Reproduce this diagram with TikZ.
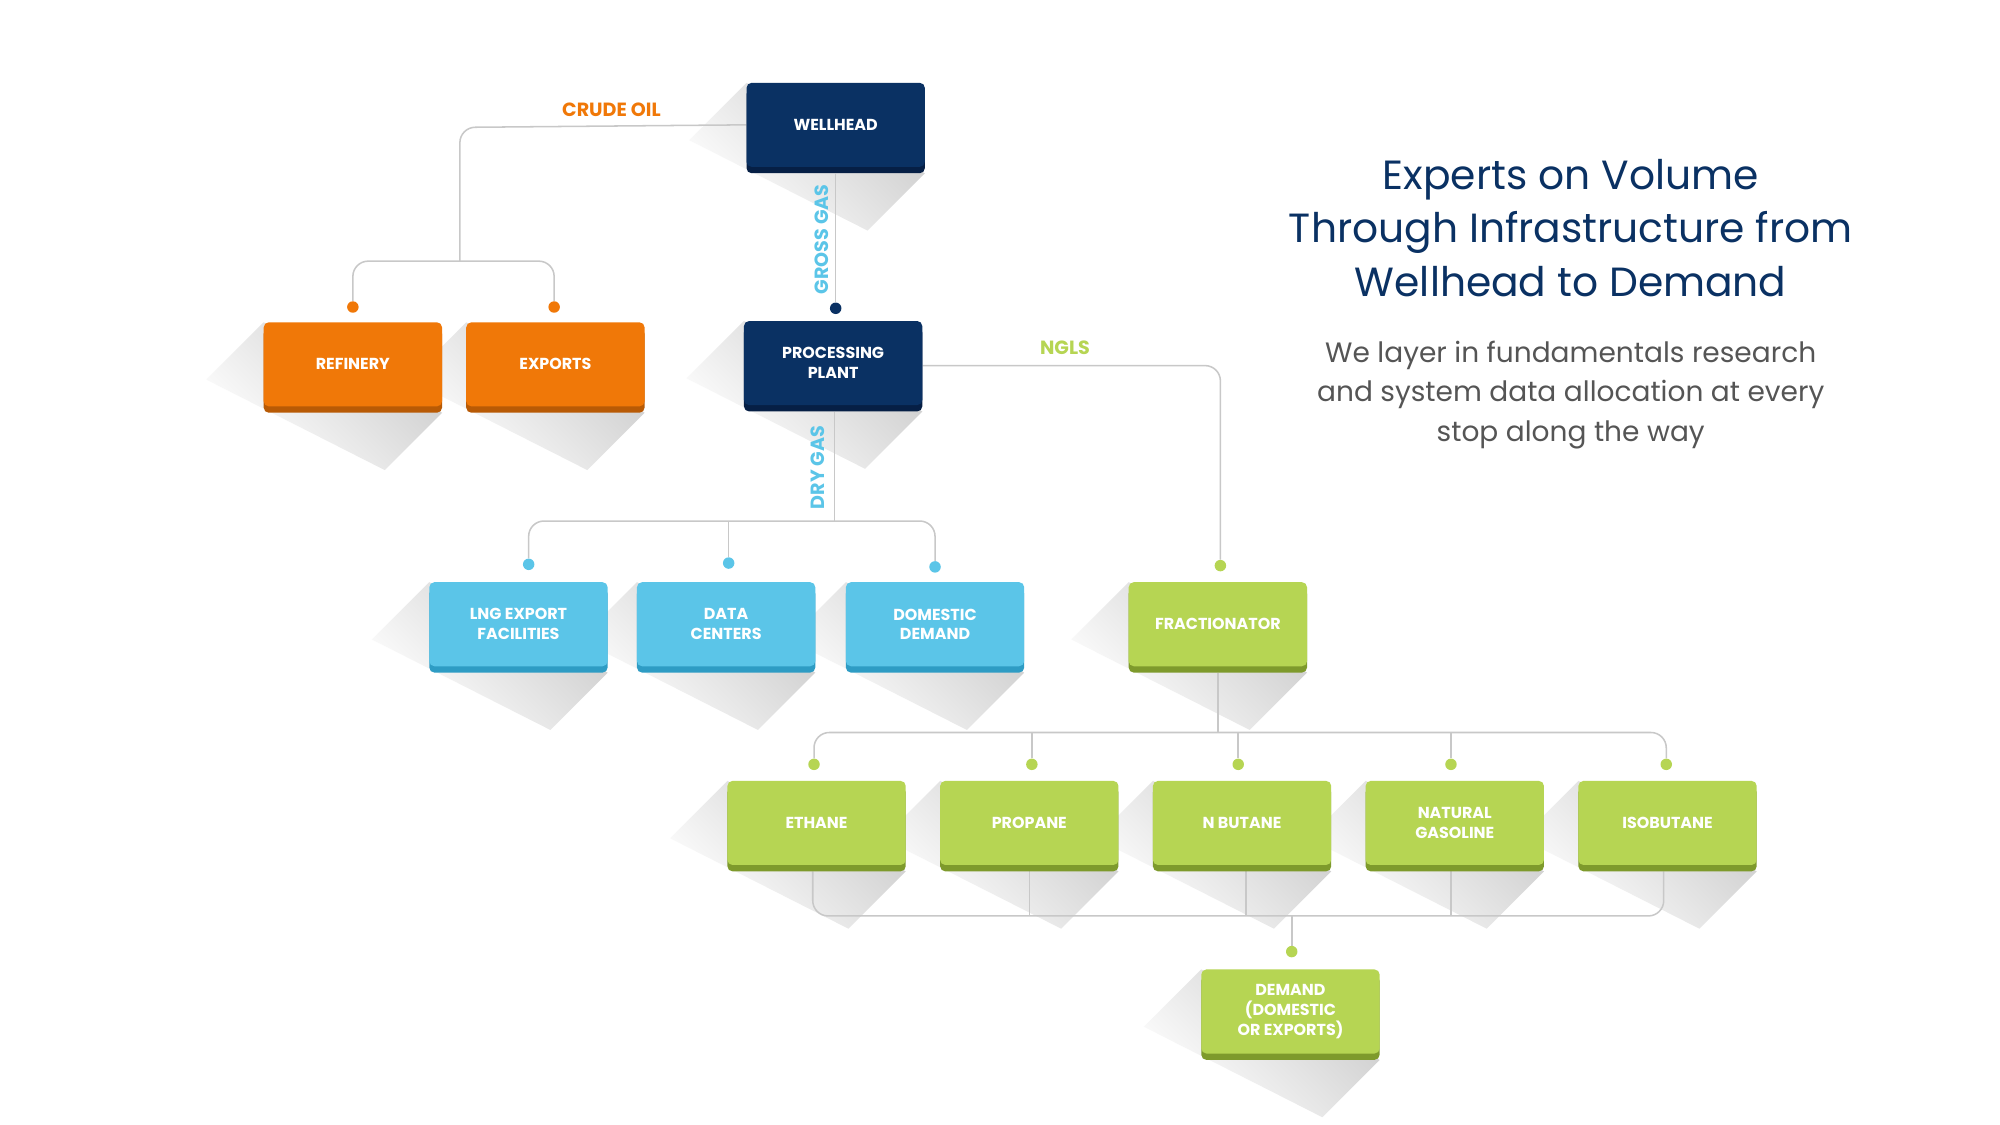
\documentclass[tikz,border=0pt]{standalone}
\usepackage{fontspec}
\setmainfont{Poppins}
\usetikzlibrary{calc}
\pgfdeclarelayer{shad}\pgfdeclarelayer{lines}
\pgfsetlayers{shad,lines,main}
\definecolor{navy}{HTML}{0A3163}\definecolor{navydark}{HTML}{061F45}
\definecolor{org}{HTML}{F07808}\definecolor{orgdark}{HTML}{B85A05}
\definecolor{sky}{HTML}{5BC5E8}\definecolor{skydark}{HTML}{2E9CC4}
\definecolor{lime}{HTML}{B6D553}\definecolor{limedark}{HTML}{7E9A2C}
\definecolor{ln}{HTML}{C8C8C8}\definecolor{sub}{HTML}{555555}
\tikzset{
 box/.style={minimum width=140pt,minimum height=66pt,rounded corners=4pt,text=white,
   font=\bfseries\fontsize{12.5}{15.5}\selectfont,align=center,inner sep=0pt},
 shadow/.style={top color=black!20,bottom color=white,shading angle=-45},
 conn/.style={ln,line width=1.2pt,rounded corners=12pt},
 dot/.style={circle,inner sep=0pt,minimum size=9pt,fill=#1},
 lab/.style={font=\bfseries\fontsize{15}{16}\selectfont,text=#1},
}
\newcommand\mybox[5]{%
 \begin{pgfonlayer}{shad}
 \shade[shadow] (#2-70,#3-33) -- (#2-115,#3+12) -- (#2+25,#3+83) -- (#2+70,#3+38) -- cycle;
 \end{pgfonlayer}
 \fill[#4dark,rounded corners=4pt] (#2-70,#3-28) rectangle (#2+70,#3+38);
 \node[box,fill=#4] (#1) at (#2,#3) {#5};}
\begin{document}
\begin{tikzpicture}[x=1pt,y=-1pt]
\useasboundingbox (0,0) rectangle (1570,883);
\begin{pgfonlayer}{shad}\fill[white] (0,0) rectangle (1570,883);\end{pgfonlayer}
% boxes
\mybox{well}{656}{98}{navy}{WELLHEAD}
\mybox{proc}{654}{285}{navy}{PROCESSING\\PLANT}
\mybox{ref}{277}{286}{org}{REFINERY}
\mybox{exp}{436}{286}{org}{EXPORTS}
\mybox{lng}{407}{490}{sky}{LNG EXPORT\\FACILITIES}
\mybox{data}{570}{490}{sky}{DATA\\CENTERS}
\mybox{dom}{734}{490}{sky}{DOMESTIC\\DEMAND}
\mybox{frac}{956}{490}{lime}{FRACTIONATOR}
\mybox{eth}{641}{646}{lime}{ETHANE}
\mybox{pro}{808}{646}{lime}{PROPANE}
\mybox{nbu}{975}{646}{lime}{N BUTANE}
\mybox{nat}{1142}{646}{lime}{NATURAL\\GASOLINE}
\mybox{iso}{1309}{646}{lime}{ISOBUTANE}
\mybox{dem}{1013}{794}{lime}{DEMAND\\(DOMESTIC\\OR EXPORTS)}
% dots
\node[dot=org] (dref) at (277,241) {};
\node[dot=org] (dexp) at (435,241) {};
\node[dot=navy] (dproc) at (656,242) {};
\node[dot=sky] (dlng) at (415,443) {};
\node[dot=sky] (ddata) at (572,442) {};
\node[dot=sky] (ddom) at (734,445) {};
\node[dot=lime] (dfrac) at (958,444) {};
\node[dot=lime] (deth) at (639,600) {};
\node[dot=lime] (dpro) at (810,600) {};
\node[dot=lime] (dnbu) at (972,600) {};
\node[dot=lime] (dnat) at (1139,600) {};
\node[dot=lime] (diso) at (1308,600) {};
\node[dot=lime] (ddem) at (1014,747) {};
\begin{pgfonlayer}{lines}
\coordinate (cj) at (361,205);
\draw[conn] (well.west) -- (361,100) -- (cj);
\draw[conn] (dref.north) -- (277,205) -- (435,205) -- (dexp.north);
\draw[conn] (well.south) ++(0,5) -- (dproc.north);
\draw[conn] (proc.south) ++(1,5) -- (655,409);
\draw[conn] (dlng.north) -- (415,409) -- (734,409) -- (ddom.north);
\draw[conn] (ddata.north) -- (572,409);
\draw[conn] (proc.east) ++(0,2) -- (958,287) -- (dfrac.north);
\draw[conn] (frac.south) ++(0,5) -- (956,575);
\draw[conn] (deth.north) -- (639,575) -- (1308,575) -- (diso.north);
\draw[conn] (dpro.north) -- (810,575);
\draw[conn] (dnbu.north) -- (972,575);
\draw[conn] (dnat.north) -- (1139,575);
\draw[conn] (638,684) -- (638,719) -- (1306,719) -- (1306,684);
\draw[conn] (808,684) -- (808,719);
\draw[conn] (978,684) -- (978,719);
\draw[conn] (1139,684) -- (1139,719);
\draw[conn] (1014,719) -- (ddem.north);
\end{pgfonlayer}
% labels
\node[lab=org] (lcrude) at (480,86) {CRUDE OIL};
\node[lab=sky,rotate=90] (lgross) at (645,188) {GROSS GAS};
\node[lab=sky,rotate=90] (ldry) at (642,367) {DRY GAS};
\node[lab=lime] (lngl) at (836,273) {NGLS};
% title
\node[text=navy,font=\fontsize{32}{42}\selectfont,align=center] (title) at (1233,179)
 {Experts on Volume\\Through Infrastructure from\\Wellhead to Demand};
\node[text=sub,font=\fontsize{22}{31}\selectfont,align=center] (subt) at (1233,310)
 {We layer in fundamentals research\\and system data allocation at every\\stop along the way};
\end{tikzpicture}
\end{document}
